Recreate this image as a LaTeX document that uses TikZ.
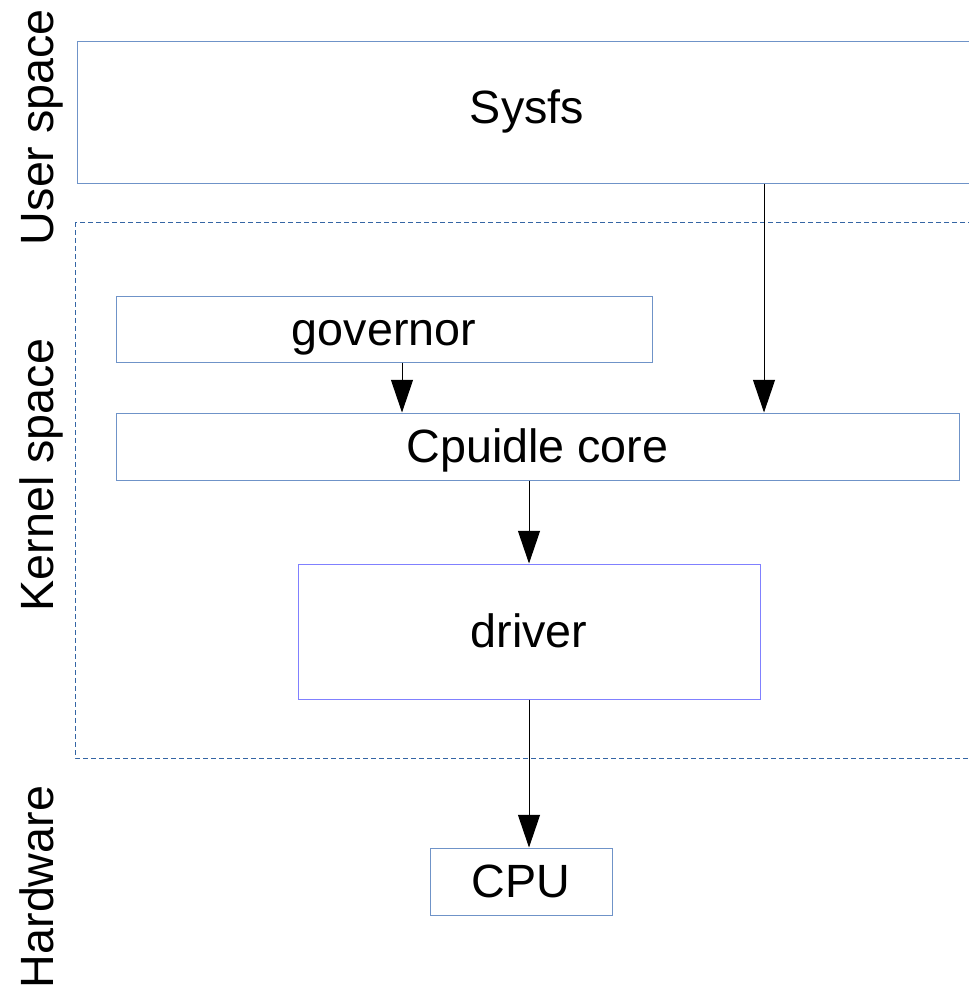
\documentclass[tikz,border=0pt]{standalone}
\usepackage{fontspec}
\setmainfont{Liberation Sans}
\usetikzlibrary{arrows.meta}

\definecolor{boxblue}{HTML}{6F93C8}
\definecolor{dashblue}{HTML}{3465A4}
\definecolor{drvblue}{HTML}{8080FF}

\begin{document}
\begin{tikzpicture}[x=0.75pt, y=-0.75pt,
	every node/.style = {font=\fontsize{35}{42}\selectfont, text height=31.7pt, text depth=7.4pt},
	box/.style = {draw=boxblue, line width=0.75pt, inner sep=0pt},
	side/.style = {rotate=90},
	arr/.style = {-{Triangle[length=24.5pt, width=16.5pt]}, line width=0.75pt},
]
\clip (0,0) rectangle (969,988);

% layers
\draw [dashblue, line width=0.75pt, dash pattern=on 3.5pt off 2.5pt] (75,222) rectangle (1000,758);

\node (user) [side] at (37,127) {User space};
\node (kernel) [side] at (37,475) {Kernel space};
\node (hw) [side] at (37,887) {Hardware};

% blocks
\node (sysfs) [box, text depth=15pt, minimum width=675pt, minimum height=105.75pt] at (527,112.5) {Sysfs};
\node (governor) [box, minimum width=402pt, minimum height=49.5pt] at (384,329) {governor};
\node (core) [box, minimum width=632.25pt, minimum height=50.25pt] at (537.5,446.5) {Cpuidle core};
\node (driver) [box, draw=drvblue, minimum width=346.5pt, minimum height=101.25pt] at (529,631.5) {driver};
\node (cpu) [box, minimum width=136.5pt, minimum height=50.25pt] at (521,881.5) {CPU};

\coordinate (s) at (764,0);
\coordinate (g) at (402,0);

\draw [arr] (sysfs.south -| s) -- (core.north -| s);
\draw [arr] (governor.south -| g) -- (core.north -| g);
\draw [arr] (core.south -| driver) -- (driver.north);
\draw [arr] (driver.south) -- (driver.south |- cpu.north);

\end{tikzpicture}
\end{document}
